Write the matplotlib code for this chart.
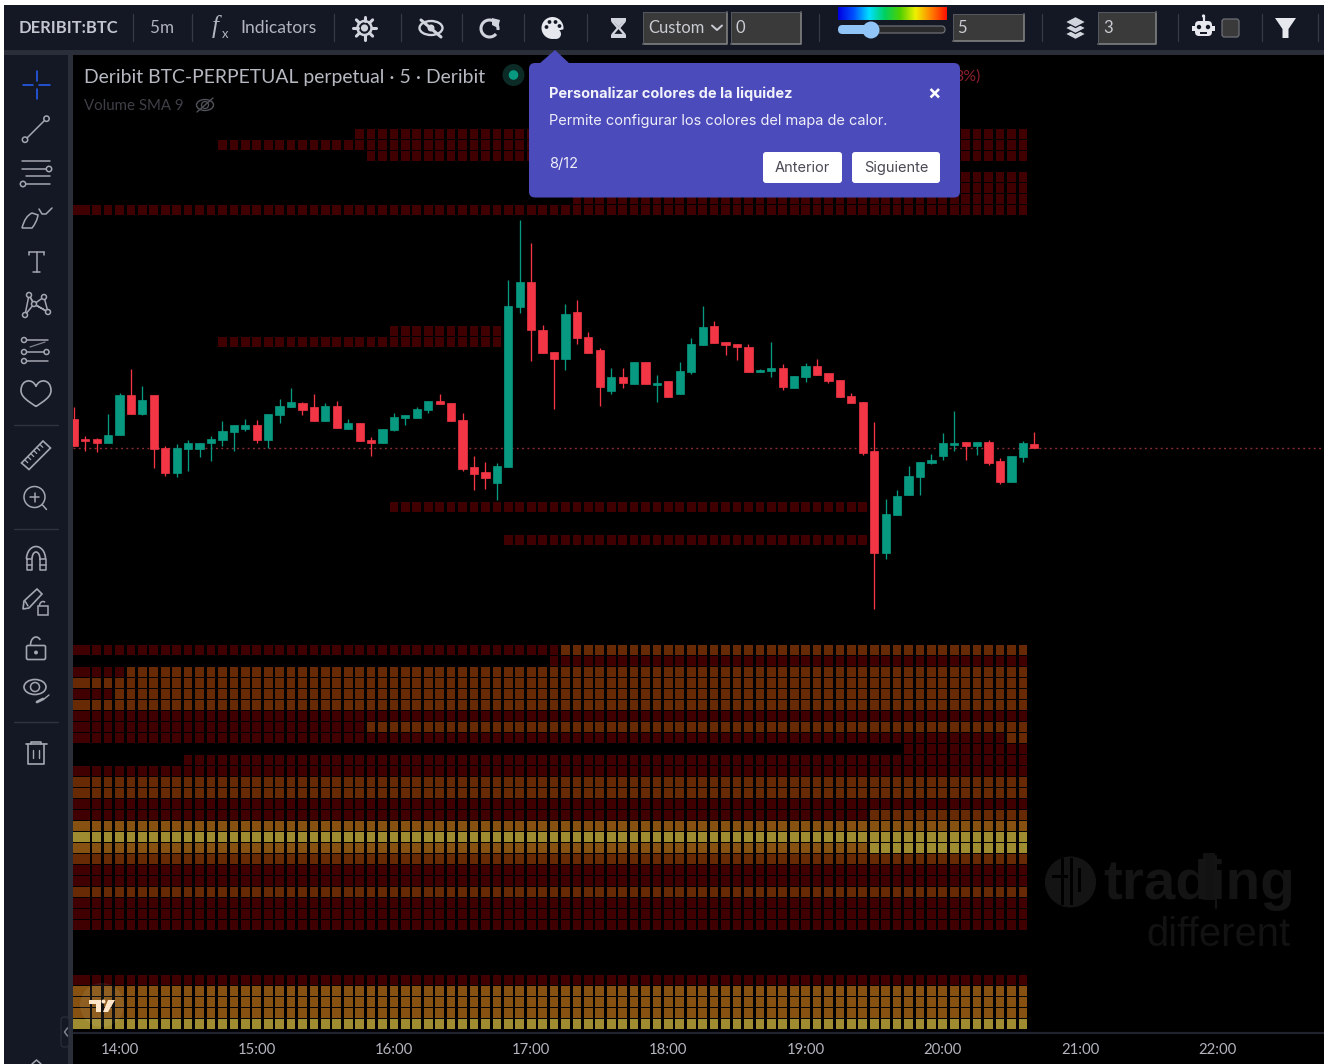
import numpy as np
import matplotlib
matplotlib.use('Agg')
import matplotlib.pyplot as plt
from matplotlib.colors import LinearSegmentedColormap
from matplotlib.patches import Rectangle, Circle, Ellipse, Arc, Polygon, FancyBboxPatch, PathPatch
from matplotlib.path import Path

W, H = 1328, 1064

# candles, one per 5 minutes, column 0 is the 14:00 candle
# prices are on the chart's own vertical scale (no price axis is shown, smaller = higher up)
FIRST_COL = -4
OPENS = [419.3, 438.7, 438.7, 443.3, 435, 394.7, 414, 394.7, 448.3, 473, 449.3, 449.3, 443.3, 439.7, 432.3, 428.7,
         425.3, 439.7, 415, 406.7, 403.3, 407, 421.3, 405.7, 428.7, 423, 440.3, 443.3, 430, 417.7, 417.7, 410,
         400.7, 403.3, 420.3, 467, 472, 482.7, 467, 307, 281.7, 329.7, 351.7, 358.7, 312.3, 337, 350.3, 390.7,
         377.3, 384.3, 361.7, 384.7, 381.3, 394.3, 372.3, 345.3, 326, 341.7, 344.3, 346.7, 372.3, 371, 367.7,
         388.3, 377.3, 366.3, 372.7, 380, 396, 402.3, 451.3, 552.7, 514.7, 495, 476.7, 463.3, 455.7, 445, 441.7,
         446, 441.7, 461, 481.7, 457, 444]
CLOSES = [446, 441, 443.3, 435, 394.7, 414, 399.7, 449.3, 473, 447.7, 442.7, 442.7, 439, 431.3, 425.3, 425.3,
          439.7, 414.3, 405.7, 402, 410, 421.3, 405.7, 427.7, 423, 441, 443.3, 429, 416.7, 415.3, 409.3, 400.7,
          404, 421.3, 469.3, 474.3, 478, 466, 306, 281.7, 330.3, 352.7, 358.7, 313.7, 338, 352.7, 387, 377.3,
          383.3, 361.7, 384.3, 383.3, 396.7, 371.3, 344.3, 327, 342.7, 345, 347.3, 372.3, 370.3, 367.7, 387,
          376.3, 366.3, 374.7, 380.7, 396.7, 403, 453.3, 552.7, 513.7, 495.7, 475.7, 462.3, 460, 442.7, 442.7,
          446, 441.7, 463, 481.7, 456.3, 442.7, 448.3]
HIGHS = [406.7, 436, 437.7, 414.3, 393.3, 368.7, 386, 394.7, 446, 443.7, 440, 442.7, 436, 421.3, 425.3, 419,
         420.3, 414.3, 399.3, 388.3, 402, 394.3, 403, 400.7, 419.3, 423, 437.3, 429, 413, 415.3, 406.7, 400.7,
         394.3, 403.3, 413, 456, 462, 463.3, 280, 220, 243.3, 324.7, 351.7, 303.7, 300, 332, 348, 367.7, 367.7,
         361.7, 361.7, 375, 381.3, 361.7, 338.3, 306, 321, 341.7, 344.3, 344.3, 368.7, 341.7, 364, 376.3, 362.7,
         359, 372.7, 380, 393.3, 402.3, 421.7, 499.3, 490.3, 466, 462.3, 453.7, 432.7, 410.7, 441.7, 441.7, 440,
         458.3, 456.3, 441.3, 431.7]
LOWS = [446, 450.7, 452, 443.3, 435, 414, 415.3, 468.3, 475.7, 476.7, 470.7, 457, 460.7, 446, 450.7, 431.3,
        443.3, 447.7, 422.7, 406.7, 415.3, 421.3, 421.3, 427.7, 428.7, 441, 456, 443.3, 431.3, 425, 417.7, 412.7,
        404, 421.3, 470.7, 490, 489, 500, 467, 313.3, 361, 352.7, 409, 369.7, 344, 352.7, 405.7, 394.3, 388.3,
        384.3, 384.3, 401.7, 396.7, 394.3, 373.7, 345.3, 342.7, 355, 360, 372.3, 372.3, 377, 389.7, 388.3, 382.3,
        374.7, 383.3, 396.7, 403, 454.7, 609.3, 559, 514.7, 495, 495, 464, 459.7, 450.7, 459.7, 454.7, 465.3,
        484, 481.7, 462, 448.3]

CURRENT_PRICE = 448
TIME_TICKS = [0, 12, 24, 36, 48, 60, 72, 84, 96]
TIME_LABELS = ['14:00', '15:00', '16:00', '17:00', '18:00', '19:00', '20:00', '21:00', '22:00']

# liquidity heatmap: (price, first column, last column, strength 1-4)
LEFT, RIGHT = -4, 79
BANDS = [
    (134, 21, RIGHT, 1), (145, 9, RIGHT, 1), (156, 22, RIGHT, 1),
    (177, 45, RIGHT, 1), (188, 45, RIGHT, 1), (199, 40, RIGHT, 1), (210, LEFT, RIGHT, 1),
    (331, 24, 33, 1), (342, 9, 33, 1),
    (507, 24, 65, 1), (540, 34, 65, 1),
    (650, LEFT, 38, 1), (650, 39, RIGHT, 2),
    (661, 38, RIGHT, 1),
    (672, LEFT, 0, 1), (672, 1, RIGHT, 2),
    (683, LEFT, RIGHT, 2),
    (694, LEFT, -1, 1), (694, 0, RIGHT, 2),
    (705, LEFT, RIGHT, 2),
    (716, LEFT, RIGHT, 1),
    (727, LEFT, 21, 1), (727, 22, RIGHT, 2),
    (738, LEFT, 77, 1), (738, 78, RIGHT, 2),
    (749, 69, RIGHT, 1),
    (760, 6, RIGHT, 1),
    (771, LEFT, RIGHT, 1),
    (782, LEFT, RIGHT, 2),
    (793, LEFT, RIGHT, 2),
    (804, LEFT, RIGHT, 1),
    (815, LEFT, 65, 1), (815, 66, RIGHT, 2),
    (826, LEFT, RIGHT, 3),
    (837, LEFT, RIGHT, 4),
    (848, LEFT, 65, 3), (848, 66, RIGHT, 4),
    (859, LEFT, RIGHT, 2),
    (870, LEFT, RIGHT, 1),
    (881, LEFT, RIGHT, 1),
    (892, LEFT, RIGHT, 2),
    (903, LEFT, RIGHT, 1),
    (914, LEFT, RIGHT, 1),
    (925, LEFT, RIGHT, 1),
    (980, LEFT, RIGHT, 1),
    (991, LEFT, RIGHT, 3),
    (1002, LEFT, RIGHT, 3),
    (1013, LEFT, RIGHT, 3),
    (1024, LEFT, RIGHT, 4),
]

HEAT_COLORS = {1: '#400002', 2: '#672a04', 3: '#875211', 4: '#a08c30'}
UP, DOWN = '#089981', '#f23645'
PANEL = '#131824'
ICON = '#a4a7b0'
TXT = '#b2b5be'
MAIN_FONT = 'Lato'

plt.rcParams['font.family'] = ['Lato', 'DejaVu Sans']
fig = plt.figure(figsize=(W / 100, H / 100), dpi=100, facecolor='black')

# chart axes sit on the same place as in the screenshot
ax = fig.add_axes([73 / W, 1 - 1033 / H, (1324 - 73) / W, (1033 - 55) / H], facecolor='black')
PX_PER_COL = 11.435
ax.set_xlim((73 - 119.5) / PX_PER_COL, (1324 - 119.5) / PX_PER_COL)
ax.set_ylim(1033, 55)
for s in ['top', 'left', 'right']:
    ax.spines[s].set_visible(False)
ax.spines['bottom'].set_color('#20232e')
ax.spines['bottom'].set_linewidth(1.6)
ax.set_yticks([])
ax.set_xticks(TIME_TICKS)
ax.set_xticklabels(TIME_LABELS, fontsize=10.7, color=TXT, fontfamily=MAIN_FONT)
ax.tick_params(axis='x', length=0, pad=7)

# heatmap
for level in HEAT_COLORS:
    xs, ys = [], []
    for price, c0, c1, strength in BANDS:
        if strength == level:
            cols = np.arange(c0, c1 + 1, dtype=float)
            cols[cols == LEFT] += 0.25  # leftmost cell is cut by the chart edge
            xs.extend(cols)
            ys.extend([price] * len(cols))
    ax.bar(xs, 9.5, bottom=np.array(ys) - 4.75, width=0.76, color=HEAT_COLORS[level], linewidth=0, zorder=1)

# last price line
ax.axhline(CURRENT_PRICE, color='#8a2c33', linewidth=1.0, linestyle=(0, (1.4, 2.4)), zorder=2)

# candles
cols = np.arange(len(OPENS)) + FIRST_COL
opens, closes, highs, lows = map(np.array, (OPENS, CLOSES, HIGHS, LOWS))
colors = [UP if c < o else DOWN for o, c in zip(opens, closes)]
ax.vlines(cols, highs, lows, colors=colors, linewidth=0.95, zorder=3)
ax.bar(cols, np.abs(closes - opens), bottom=np.minimum(opens, closes), width=0.72, color=colors,
       edgecolor=colors, linewidth=0.5, zorder=4)

# everything around the chart lives on a pixel overlay
ov = fig.add_axes([0, 0, 1, 1], facecolor='none', zorder=5)
ov.set_xlim(0, W)
ov.set_ylim(H, 0)
ov.axis('off')


def box(x0, y0, x1, y1, color, ec='none', lw=0, z=2):
    ov.add_patch(Rectangle((x0, y0), x1 - x0, y1 - y0, facecolor=color, edgecolor=ec, linewidth=lw, zorder=z))


def line(xs, ys, color=ICON, lw=1.1, z=3):
    ov.plot(xs, ys, color=color, linewidth=lw, zorder=z, solid_capstyle='round', solid_joinstyle='round')


def ring(x, y, r, color=ICON, lw=1.1, fill='none', z=3):
    ov.add_patch(Circle((x, y), r, facecolor=fill, edgecolor=color, linewidth=lw, zorder=z))


def label(x, y, s, size, color=TXT, ha='left', weight='normal', family=MAIN_FONT, z=4, **kw):
    return ov.text(x, y + 1, s, fontsize=size * 0.72, color=color, ha=ha, va='center', fontweight=weight,
                   fontfamily=family, zorder=z, **kw)


def input_box(x0, y0, x1, y1):
    box(x0, y0, x1, y1, '#3a3a3a', z=2)
    line([x0, x1, x1], [y1, y1, y0], color='#808080', lw=1.2)
    line([x0, x0, x1], [y1, y0, y0], color='#55585f', lw=0.7)


# frame
box(4, 5, 1324, 50, PANEL)
box(4, 50, 1324, 55, '#2a2e39')
box(4, 55, 68, H, PANEL)
box(68, 55, 73, H, '#2a2e39')
box(0, 0, W, 5, 'white', z=6)
box(0, 0, 4, H, 'white', z=6)
box(1324, 0, W, H, 'white', z=6)

# toolbar
for x in [133, 192, 334, 401, 462, 524, 587, 819, 1042, 1178, 1262, 1318]:
    line([x, x], [14, 41], color='#363a45', lw=0.9)
label(19, 27, 'DERIBIT:BTC', 16.5, color='#c3c6cf', weight='bold')
label(150, 27, '5m', 17)
label(240, 27, 'Indicators', 17.5)
label(212, 26, 'f', 25, family='Liberation Serif', style='italic')
label(222, 33, 'x', 13)

# sun
for a in np.arange(0, 360, 45):
    ca, sa = np.cos(np.radians(a)), np.sin(np.radians(a))
    line([364.5 + 7 * ca, 364.5 + 11.5 * ca], [28 + 7 * sa, 28 + 11.5 * sa], color='#d1d4dc', lw=2.2)
ring(364.5, 28, 7, color='#d1d4dc', lw=1.8)
ring(364.5, 28, 3.6, color='#d1d4dc', lw=0, fill='#d1d4dc')
# eye off
ov.add_patch(Ellipse((431, 28), 23, 14, facecolor='none', edgecolor='#d1d4dc', linewidth=1.7, zorder=3))
ring(431, 28, 3.5, color='#d1d4dc', lw=0, fill='#d1d4dc')
line([421, 441], [20, 37], color='#d1d4dc', lw=2.2)
# redo
ov.add_patch(Arc((489.5, 28.5), 17, 17, theta1=-320, theta2=10, edgecolor='#d1d4dc', linewidth=2.2, zorder=3))
ov.add_patch(Polygon([[492, 18], [500, 20], [498, 28], [492, 25]], facecolor='#d1d4dc', zorder=3))
# palette
ring(552.5, 28, 11, color='#e6e8ee', lw=0, fill='#e6e8ee')
for dx, dy in [(-6, -1), (-3, -6), (3, -6), (7, -2)]:
    ring(552.5 + dx, 28 + dy, 1.9, color=PANEL, lw=0, fill=PANEL)
ov.add_patch(Polygon([[556, 31], [565, 29], [565, 41], [556, 41]], facecolor=PANEL, zorder=3))
ring(556, 34, 5, color='#e6e8ee', lw=0, fill='#e6e8ee')
# hourglass
box(611, 18, 626, 21, '#d1d4dc', z=3)
box(611, 35, 626, 38, '#d1d4dc', z=3)
ov.add_patch(Polygon([[612, 21], [625, 21], [619, 28], [625, 35], [612, 35], [618, 28]],
                     facecolor='none', edgecolor='#d1d4dc', linewidth=1.6, zorder=3))
ov.add_patch(Polygon([[614, 22], [623, 22], [618.5, 27]], facecolor='#d1d4dc', zorder=3))

input_box(643, 12, 727, 44)
label(648, 27, 'Custom', 16.5, color='#c9ccd3')
line([712, 717, 722], [25.5, 30, 25.5], color='#c9ccd3', lw=1.4)
input_box(731, 12, 801, 44)
label(735, 27, '0', 16.5, color='#c9ccd3')

# colour slider
grad = LinearSegmentedColormap.from_list('heat', ['#0000e0', '#0050ff', '#00e0ff', '#00d060', '#50d000', '#f0f000',
                                                  '#ff8000', '#ff1000'])
ov.imshow(np.linspace(0, 1, 256)[None, :], cmap=grad, extent=(838, 947, 20, 7), aspect='auto', zorder=3)
ov.set_xlim(0, W)
ov.set_ylim(H, 0)
ov.add_patch(FancyBboxPatch((842, 26), 103, 7, boxstyle='round,pad=0,rounding_size=3.5',
                            facecolor='#2b2b2b', edgecolor='#6d6f75', linewidth=0.9, zorder=3))
ov.add_patch(FancyBboxPatch((838, 25), 32, 9, boxstyle='round,pad=0,rounding_size=4.5',
                            facecolor='#92c5f7', edgecolor='none', zorder=3))
ring(871, 30, 8.5, color='#92c5f7', lw=0, fill='#92c5f7', z=4)
input_box(953, 14, 1024, 41)
label(957, 27, '5', 16.5, color='#c9ccd3')
# layers
for y0 in [34, 28, 22]:
    ov.add_patch(Polygon([[1065, y0], [1075.5, y0 - 5.5], [1086, y0], [1075.5, y0 + 5.5]], facecolor='#d1d4dc',
                         edgecolor=PANEL, linewidth=0.9, zorder=3))
input_box(1098, 12, 1156, 44)
label(1103, 27, '3', 16.5, color='#c9ccd3')
# robot
ov.add_patch(FancyBboxPatch((1195, 21), 17, 15, boxstyle='round,pad=0,rounding_size=4', facecolor='#e6e8ee',
                            edgecolor='none', zorder=3))
box(1192, 26, 1215, 31, '#e6e8ee', z=3)
ring(1199, 27, 2.2, color=PANEL, lw=0, fill=PANEL, z=4)
ring(1208, 27, 2.2, color=PANEL, lw=0, fill=PANEL, z=4)
box(1200, 32, 1207, 34, PANEL, z=4)
line([1203.5, 1203.5], [16, 21], color='#e6e8ee', lw=1.6)
ring(1203.5, 16, 1.6, color='#e6e8ee', lw=0, fill='#e6e8ee')
ov.add_patch(FancyBboxPatch((1222, 19), 17, 18, boxstyle='round,pad=0,rounding_size=2.5', facecolor='#3a3a3a',
                            edgecolor='#6d6f75', linewidth=0.9, zorder=3))
# filter
ov.add_patch(Polygon([[1275, 18], [1296, 18], [1288.5, 29], [1288.5, 38], [1282.5, 38], [1282.5, 29]],
                     facecolor='#e6e8ee', zorder=3))

# drawing tools
for y in [424.5, 528.5, 721.5]:
    line([14, 58], [y, y], color='#2f333e', lw=1.0)
line([23, 33], [85, 85], color='#2962ff', lw=1.1)
line([39, 50], [85, 85], color='#2962ff', lw=1.1)
line([36.5, 36.5], [71, 81], color='#2962ff', lw=1.1)
line([36.5, 36.5], [89, 99], color='#2962ff', lw=1.1)
line([27, 44.5], [138, 120.5])
ring(25, 139.7, 2.7)
ring(46.5, 118.7, 2.7)
line([22, 50], [161, 161])
line([22, 46], [168.7, 168.7])
ring(49, 169, 2.7)
line([25.5, 50], [176, 176])
line([26, 50], [183.7, 183.7])
ring(23, 184, 2.7)
# brush
ov.add_patch(PathPatch(Path([(22, 228), (25, 216), (32, 213), (38, 215), (37, 222), (32, 228), (22, 228)],
                            [Path.MOVETO, Path.CURVE3, Path.CURVE3, Path.LINETO, Path.CURVE3, Path.CURVE3,
                             Path.CLOSEPOLY]), facecolor='none', edgecolor=ICON, linewidth=1.1, zorder=3))
line([39, 42, 46, 52], [209, 214, 214, 208])
# text
line([29, 44], [252, 252])
line([36.5, 36.5], [252, 272])
line([33, 40], [272, 272])
line([29, 29], [252, 255])
line([44, 44], [252, 255])
# pattern
pts = [(25, 315), (29, 295), (34, 304), (44, 297), (48, 312)]
line([25, 29, 34, 25], [315, 295, 304, 315])
line([29, 34, 48, 44, 34, 48], [295, 304, 312, 297, 304, 312])
for p in pts:
    ring(p[0], p[1], 2.5, fill=PANEL)
# fib lines
line([27, 48], [340, 340])
line([27, 44], [352, 352])
line([27, 48], [361, 361])
line([30, 45], [347, 342], color='#80838c', lw=0.9)
ring(24, 340, 2.5)
ring(24, 352, 2.5)
ring(24, 361, 2.5)
ring(46.5, 352, 2.5)
# heart
ov.add_patch(PathPatch(Path([(36, 406.5), (28, 401), (21, 397), (21, 390.5), (21, 379), (33, 378), (36, 386.5),
                             (39, 378), (51, 379), (51, 390.5), (51, 397), (44, 401), (36, 406.5)],
                            [Path.MOVETO] + [Path.CURVE4] * 12), facecolor='none', edgecolor=ICON,
                       linewidth=1.2, zorder=3))
# ruler
ov.add_patch(Polygon([[21.5, 463], [29, 469.5], [50.5, 448], [43, 441]], facecolor='none', edgecolor=ICON,
                     linewidth=1.2, zorder=3))
for t in np.linspace(0.15, 0.85, 6):
    x0, y0 = 21.5 + t * 21.5, 463 - t * 22
    line([x0, x0 + 3], [y0, y0 + 3], lw=0.9)
# zoom
ring(34.5, 497, 10.5)
line([42.5, 46.5], [505, 509.5])
line([30, 39], [497, 497])
line([34.5, 34.5], [492.5, 501.5])
# magnet
ov.add_patch(Arc((36, 559), 19, 25, theta1=180, theta2=360, edgecolor=ICON, linewidth=1.2, zorder=3))
ov.add_patch(Arc((36, 559), 8, 14, theta1=180, theta2=360, edgecolor=ICON, linewidth=1.2, zorder=3))
for x0 in [26.5, 40]:
    line([x0, x0, x0 + 5.5, x0 + 5.5, x0], [559, 570, 570, 559, 559])
    line([x0, x0 + 5.5], [565, 565])
# pencil and lock
ov.add_patch(Polygon([[23, 609], [24, 601], [37, 589], [42, 594], [29, 608]], facecolor='none', edgecolor=ICON,
                     linewidth=1.2, zorder=3))
line([25, 28], [601, 606])
box(38, 606, 48, 615, 'none', ec=ICON, lw=1.1, z=3)
ov.add_patch(Arc((43, 606), 7, 9, theta1=180, theta2=300, edgecolor=ICON, linewidth=1.1, zorder=3))
# unlock
ov.add_patch(FancyBboxPatch((26.5, 645.5), 19, 14, boxstyle='round,pad=0,rounding_size=1.5', facecolor='none',
                            edgecolor=ICON, linewidth=1.2, zorder=3))
ov.add_patch(Arc((36, 645), 11, 16, theta1=180, theta2=310, edgecolor=ICON, linewidth=1.2, zorder=3))
ring(36, 652.5, 1.2, fill=ICON)
# eye
ov.add_patch(Ellipse((35, 687), 22, 15, facecolor='none', edgecolor=ICON, linewidth=1.2, zorder=3))
ring(35, 687, 4.5)
line([37, 43], [702, 699], lw=2.0)
line([44, 49], [699, 695], lw=1.0)
# trash
line([25.5, 47], [744, 744], lw=1.2)
line([31, 31, 41, 41], [744, 742, 742, 744], lw=1.2)
line([28, 28, 44, 44], [744, 764, 764, 744], lw=1.2)
line([33, 33], [750, 758], lw=1.0)
line([39, 39], [750, 758], lw=1.0)

# collapse handles
ov.add_patch(FancyBboxPatch((61, 1017), 8, 30, boxstyle='round,pad=0,rounding_size=3', facecolor=PANEL,
                            edgecolor='#2a2e39', linewidth=0.9, zorder=3))
line([67.5, 64.5, 67.5], [1028, 1032, 1036], color='#80838c', lw=1.1)
line([32, 36.5, 41], [1064, 1060, 1064], color=ICON, lw=1.1)

# legend on the chart
label(84, 76.5, 'Deribit BTC-PERPETUAL perpetual · 5 · Deribit', 19.35, color='#b6b9c1')
label(84, 105, 'Volume SMA 9', 15, color='#3e4047')
ov.add_patch(Ellipse((205, 105), 17, 11, facecolor='none', edgecolor='#50535a', linewidth=1.0, zorder=3))
ring(205, 105, 3.5, color='#50535a', lw=0.9)
line([197, 213], [112, 98], color='#50535a', lw=1.0)
ring(513.5, 75, 11, color='#0c2a26', lw=0, fill='#0c2a26')
ring(513.5, 75, 4.8, color='#089981', lw=0, fill='#089981')
label(981, 76, '3%)', 16, color='#8a1f2b', ha='right')

# watermark
WM = '#141414'
ring(1070.5, 882, 25, color=WM, lw=0.8, fill=WM)
for x0, y0, x1, y1 in [(1052, 875, 1068, 878), (1061, 858, 1064, 905), (1070, 858, 1073, 905), (1078, 868, 1081, 892)]:
    box(x0, y0, x1, y1, 'black', z=3)
label(1103, 884, 'trading', 56.5, color=WM, weight='bold', family='Liberation Sans')
box(1203, 853, 1215, 900, '#121212', z=3)
line([1216, 1216], [856, 908], color=WM, lw=1.5)
label(1291, 934, 'different', 40, color='#121212', ha='right', family='Liberation Sans')

# TV logo
ring(102, 1005, 22, color='white', lw=0, fill=(1, 1, 1, 0.07))
logo = '#ffe6c8'
ov.add_patch(Polygon([[89, 1000], [101, 1000], [101, 1012], [96, 1012], [96, 1004], [89, 1004]], facecolor=logo, zorder=4))
ring(103.5, 1001.5, 2, color=logo, lw=0, fill=logo, z=4)
ov.add_patch(Polygon([[108, 1000], [115, 1000], [108, 1012], [103, 1012]], facecolor=logo, zorder=4))

# tooltip
TIP = '#4c4bbb'
ov.add_patch(Polygon([[539, 64], [555, 50], [570, 64]], facecolor=TIP, zorder=7))
ov.add_patch(FancyBboxPatch((529, 63), 431, 134.5, boxstyle='round,pad=0,rounding_size=6', facecolor=TIP,
                            edgecolor='none', zorder=7))
label(549, 93, 'Personalizar colores de la liquidez', 14.55, color='#f2f2fb', weight='bold', family='Inter', z=8)
label(549, 120, 'Permite configurar los colores del mapa de calor.', 14.6, color='#eeeef9', family='Inter', z=8)
label(549, 162.5, '8/12', 14.5, color='#eeeef9', family='Inter', z=8)
label(934, 93.5, '×', 20, color='white', ha='center', weight='bold', family='Inter', z=8)
for x0, x1, s in [(763, 842, 'Anterior'), (852, 940, 'Siguiente')]:
    ov.add_patch(FancyBboxPatch((x0, 152), x1 - x0, 31, boxstyle='round,pad=0,rounding_size=3', facecolor='white',
                                edgecolor='none', zorder=8))
    label((x0 + x1) / 2, 167, s, 14.6, color='#4a4a55', ha='center', family='Inter', z=9)

fig.savefig('out.png', dpi=100, facecolor='black')
